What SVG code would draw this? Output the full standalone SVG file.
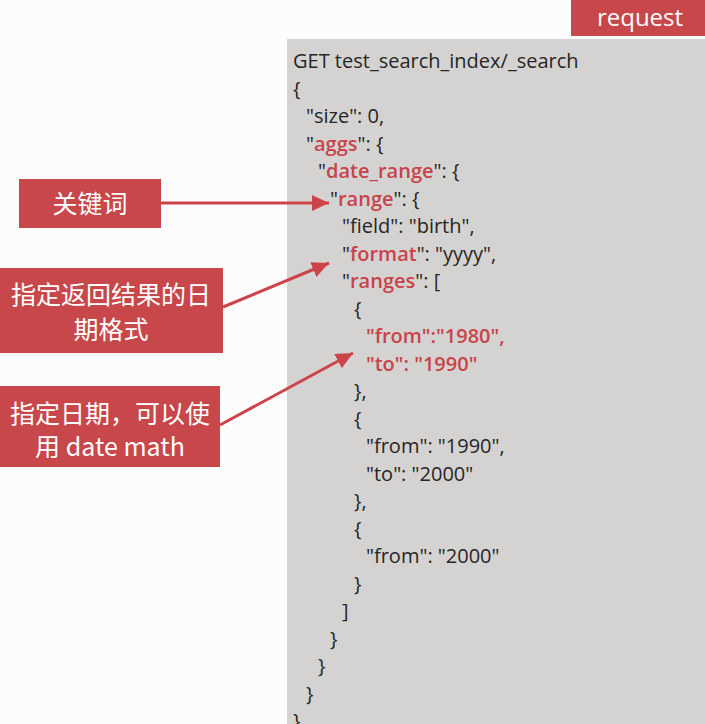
<svg xmlns="http://www.w3.org/2000/svg" width="705" height="724" viewBox="0 0 705 724">
<style>
.code{font-family:"Open Sans","Noto Sans CJK SC",sans-serif;font-size:20px;fill:#262626}
.k{fill:#c8434b;font-weight:600}
.lbl{font-family:"Noto Sans CJK SC","Noto Sans",sans-serif;font-size:25px;fill:#ffffff;text-anchor:middle}
.box{fill:#c8474a}
.conn{stroke:#cc4449;stroke-width:3;fill:none}
</style>
<defs>
<marker id="ah" markerUnits="userSpaceOnUse" markerWidth="18" markerHeight="16" refX="17" refY="8" orient="auto">
<path d="M0,0 L17,8 L0,16 z" fill="#cc4449"/>
</marker>
</defs>
<rect width="705" height="724" fill="#fcfcfc"/>
<g id="panel">
<rect x="287" y="39" width="418" height="685" fill="#d5d3d1"/>
</g>
<g id="request">
<rect x="571" y="0" width="134" height="36" class="box"/>
<text x="640" y="26" font-family="Open Sans, sans-serif" font-size="24" fill="#ffffff" text-anchor="middle">request</text>
</g>
<g id="code" class="code">
<text x="293" y="68">GET test_search_index/_search</text>
<text x="293" y="95.5">{</text>
<text x="306" y="123">"size": 0,</text>
<text x="306" y="150.5">"<tspan class="k">aggs</tspan>": {</text>
<text x="318" y="178">"<tspan class="k">date_range</tspan>": {</text>
<text x="330" y="205.5">"<tspan class="k">range</tspan>": {</text>
<text x="342" y="233">"field": "birth",</text>
<text x="342" y="260.5">"<tspan class="k">format</tspan>": "yyyy",</text>
<text x="342" y="288">"<tspan class="k">ranges</tspan>": [</text>
<text x="354" y="315.5">{</text>
<text x="366" y="343" class="k">"from":"1980",</text>
<text x="366" y="370.5" class="k">"to": "1990"</text>
<text x="354" y="398">},</text>
<text x="354" y="425.5">{</text>
<text x="366" y="453">"from": "1990",</text>
<text x="366" y="480.5">"to": "2000"</text>
<text x="354" y="508">},</text>
<text x="354" y="535.5">{</text>
<text x="366" y="563">"from": "2000"</text>
<text x="354" y="590.5">}</text>
<text x="342" y="618">]</text>
<text x="330" y="645.5">}</text>
<text x="318" y="673">}</text>
<text x="306" y="700.5">}</text>
<text x="293" y="728">}</text>
</g>
<g id="node-keyword">
<rect x="19" y="179" width="142" height="49" class="box"/>
<text x="90" y="213" class="lbl">关键词</text>
</g>
<g id="node-format">
<rect x="0" y="268" width="223" height="85" class="box"/>
<text x="111" y="304" class="lbl">指定返回结果的日</text>
<text x="111" y="339" class="lbl">期格式</text>
</g>
<g id="node-datemath">
<rect x="0" y="386" width="220" height="81" class="box"/>
<text x="110" y="423" class="lbl">指定日期，可以使</text>
<text x="110" y="456" class="lbl">用 date math</text>
</g>
<g id="connectors">
<path d="M161,203 L329,203" class="conn" marker-end="url(#ah)"/>
<path d="M223,307 L329,263" class="conn" marker-end="url(#ah)"/>
<path d="M220,425 L353,353" class="conn" marker-end="url(#ah)"/>
</g>
</svg>
